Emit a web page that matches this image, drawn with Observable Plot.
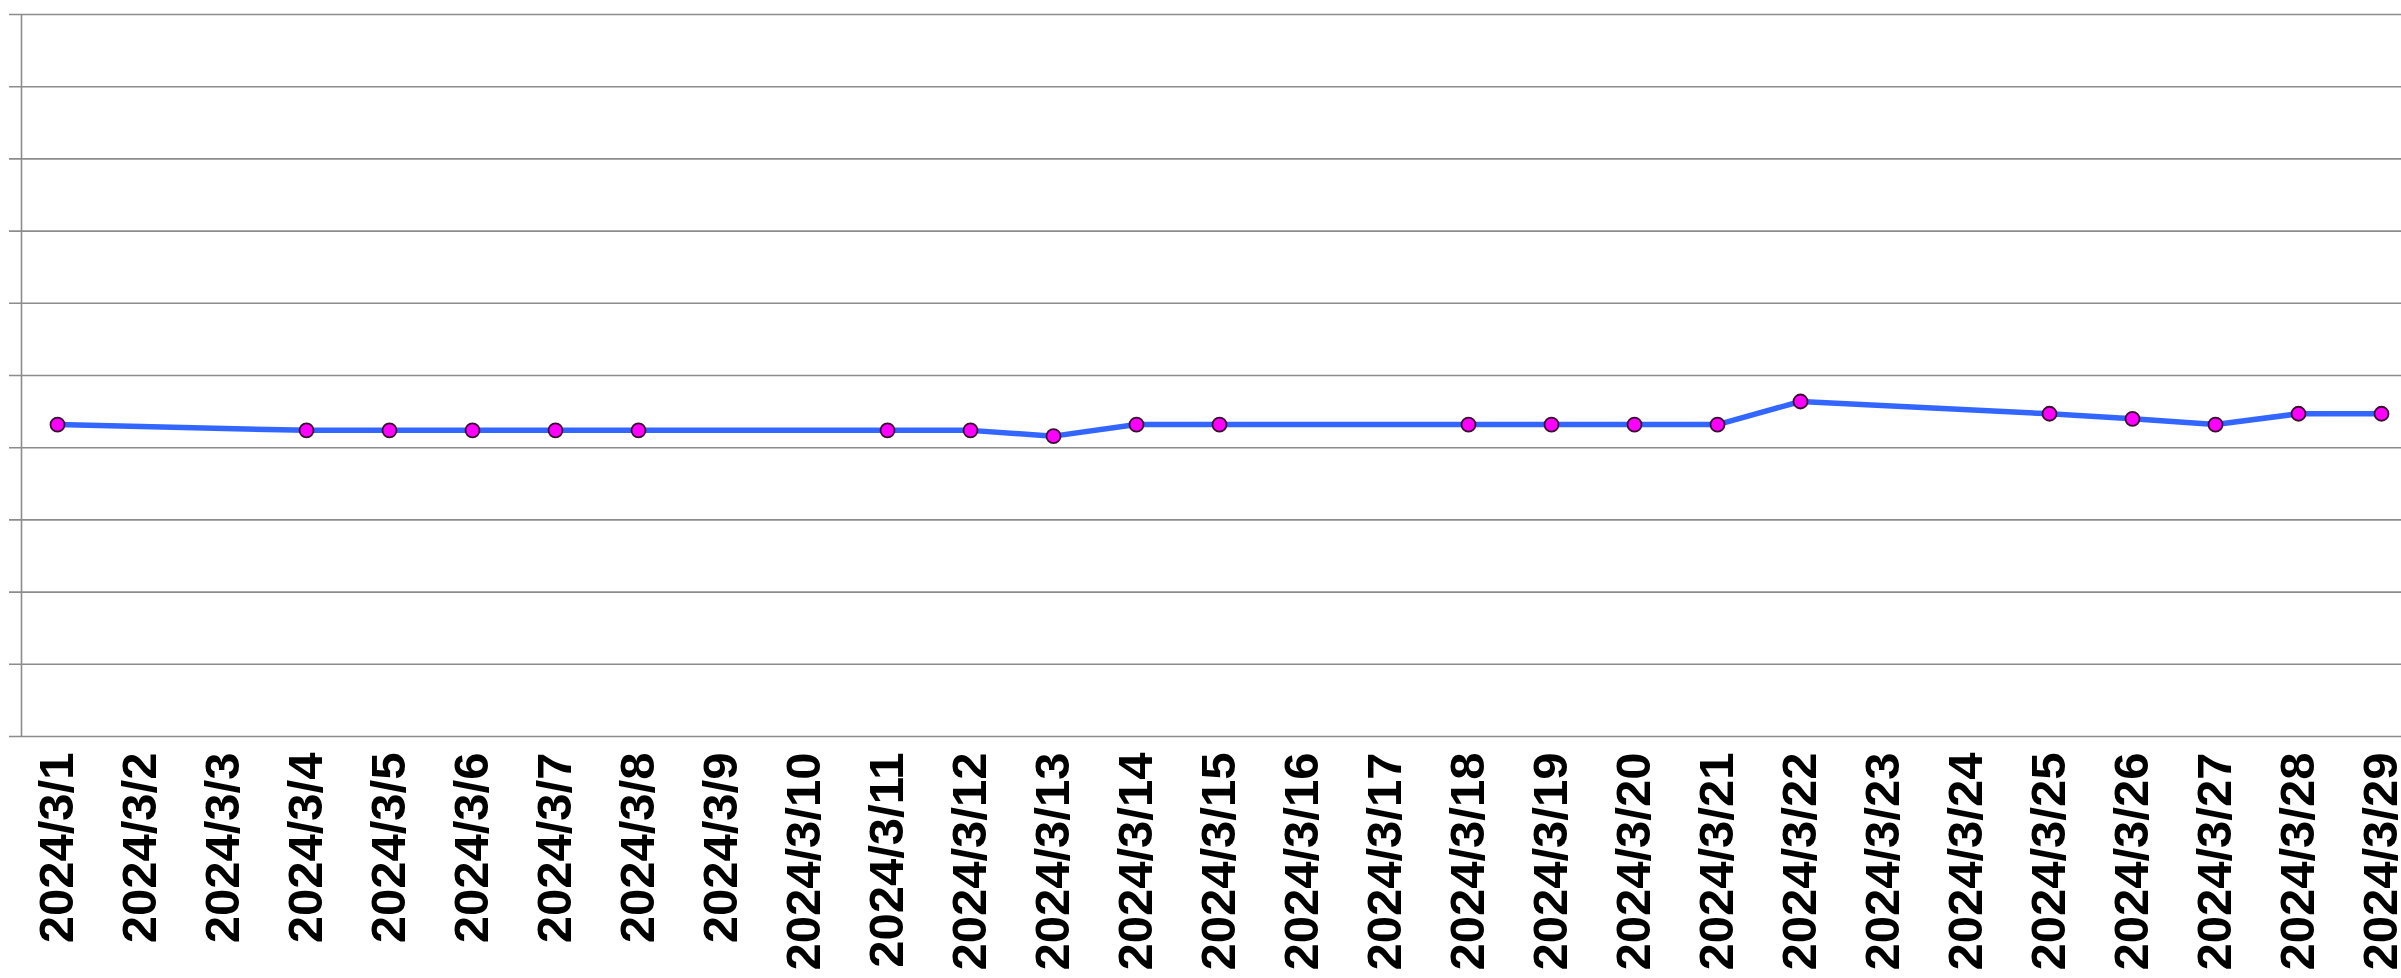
<!DOCTYPE html>
<html>
<head>
<meta charset="utf-8">
<script src="https://cdn.jsdelivr.net/npm/d3@7"></script>
<script src="https://cdn.jsdelivr.net/npm/@observablehq/plot@0.6"></script>
<style>
  html, body { margin: 0; padding: 0; background: #fff; overflow: hidden; }
  #chart { width: 2401px; height: 978px; overflow: hidden; }
  #chart svg { max-width: none !important; }
</style>
</head>
<body>
<div id="chart"></div>
<script>
const days = d3.range(1, 30).map(d => `2024/3/${d}`);
const dates = ["2024/3/1","2024/3/4","2024/3/5","2024/3/6","2024/3/7","2024/3/8",
               "2024/3/11","2024/3/12","2024/3/13","2024/3/14","2024/3/15",
               "2024/3/18","2024/3/19","2024/3/20","2024/3/21","2024/3/22",
               "2024/3/25","2024/3/26","2024/3/27","2024/3/28","2024/3/29"];
const values = [4.32, 4.24, 4.24, 4.24, 4.24, 4.24,
                4.24, 4.24, 4.16, 4.32, 4.32,
                4.32, 4.32, 4.32, 4.32, 4.64,
                4.47, 4.40, 4.32, 4.47, 4.47];
const gridTicks = d3.range(0, 11);

const data = dates.map((d, i) => ({date: d, value: values[i]}));

const plot = Plot.plot({
  width: 2440,
  height: 978,
  marginLeft: 9,
  marginRight: 13,
  marginTop: 14,
  marginBottom: 242,
  style: {fontFamily: "'Liberation Sans', Arial, sans-serif", background: "#fff", maxWidth: "none"},
  x: {type: "point", domain: days, range: [45, 2392], padding: 0, label: null},
  y: {domain: [0, 10], label: null, axis: null},
  marks: [
    Plot.ruleY(gridTicks, {stroke: "#8c8c8c", strokeWidth: 1.6}),
    Plot.ruleX([0], {x: () => days[0], dx: -36, y1: 0, y2: 10, stroke: "#8c8c8c", strokeWidth: 1.6}),
    Plot.axisX({
      tickSize: 0, tickRotate: -90, tickPadding: 0, textAnchor: "end",
      fontSize: 49, fontWeight: "bold", fill: "#000", dy: 16, label: null
    }),
    Plot.line(data, {x: "date", y: "value", stroke: "#3366ff", strokeWidth: 5.5}),
    Plot.dot(data, {x: "date", y: "value", r: 7, fill: "#ff00ff", stroke: "#3a1030", strokeWidth: 1.8,
      style: "filter: drop-shadow(1px 3px 2px rgba(0,0,0,0.35))"})
  ]
});
document.getElementById("chart").appendChild(plot);
</script>
</body>
</html>
